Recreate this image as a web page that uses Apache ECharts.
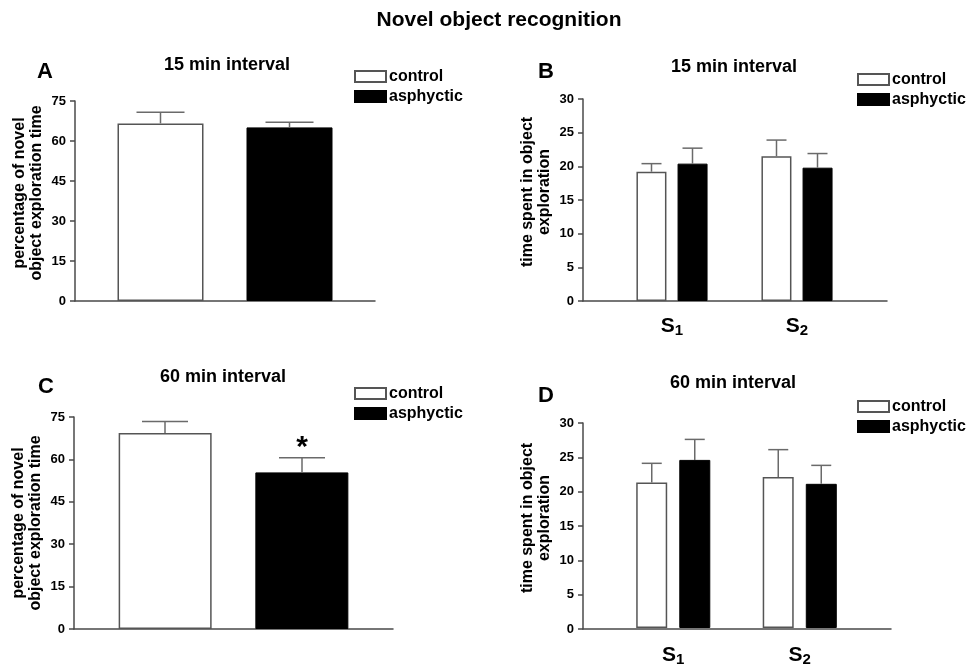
<!DOCTYPE html>
<html>
<head>
<meta charset="utf-8">
<script src="https://cdn.jsdelivr.net/npm/echarts@6/dist/echarts.min.js"></script>
<style>
html,body{margin:0;padding:0;background:#fff;}
#c{width:968px;height:667px;}
</style>
</head>
<body>
<div id="c"></div>
<script>
// ---- data ----
const seriesNames = ['control', 'asphyctic'];
const panelTitles = ['15 min interval', '15 min interval', '60 min interval', '60 min interval'];
const panelLetters = ['A', 'B', 'C', 'D'];
const sessionCats = ['S1', 'S2'];
const pctTicks = [0, 15, 30, 45, 60, 75];
const timeTicks = [0, 5, 10, 15, 20, 25, 30];

// A: 15 min, percentage of novel object exploration time
const ctrlA = [66.6];
const ctrlAErr = [4.2];
const asphA = [65.1];
const asphAErr = [1.9];
// B: 15 min, time spent in object exploration (S1, S2)
const ctrlB = [19.2, 21.5];
const ctrlBErr = [1.2, 2.4];
const asphB = [20.4, 19.8];
const asphBErr = [2.3, 2.1];
// C: 60 min, percentage
const ctrlC = [69.3];
const ctrlCErr = [4.1];
const asphC = [55.4];
const asphCErr = [5.2];
const sigC = ['*'];
// D: 60 min, time spent (S1, S2)
const ctrlD = [21.3, 22.1];
const ctrlDErr = [2.8, 4.0];
const asphD = [24.6, 21.1];
const asphDErr = [3.0, 2.7];

// ---- styles ----
const FONT = '"Liberation Sans", Arial, Helvetica, sans-serif';
const AXIS_COLOR = '#4a4a4a';
const ERR_COLOR = '#6a6a6a';

const chart = echarts.init(document.getElementById('c'), null, {renderer: 'canvas'});

function valueAxis(gridIndex, ticks, name, show, shiftUp) {
  const max = ticks[ticks.length - 1];
  const interval = ticks[1] - ticks[0];
  const sh = shiftUp || 0;
  return {
    type: 'value', gridIndex: gridIndex, min: ticks[0], max: max, interval: interval,
    show: show,
    name: show ? name : '',
    nameLocation: 'middle', nameRotate: 90, nameGap: 30,
    nameTextStyle: {fontFamily: FONT, fontWeight: 'bold', fontSize: 16, color: '#000', lineHeight: 17,
                    padding: [0, 0, 0, sh * 2]},
    axisLine: {show: true, lineStyle: {color: AXIS_COLOR, width: 1.5}},
    axisTick: {show: true, length: 5, lineStyle: {color: AXIS_COLOR, width: 1.5}},
    axisLabel: {fontFamily: FONT, fontWeight: 'bold', fontSize: 13, color: '#000', margin: 9},
    splitLine: {show: false}
  };
}
function plainCatAxis(gridIndex, data) {
  return {
    type: 'category', gridIndex: gridIndex, data: data,
    axisLine: {show: true, lineStyle: {color: AXIS_COLOR, width: 1.5}},
    axisTick: {show: false}, axisLabel: {show: false}, splitLine: {show: false}
  };
}
function sessionAxis(gridIndex, margin) {
  return {
    type: 'category', gridIndex: gridIndex, data: sessionCats,
    axisLine: {show: false}, axisTick: {show: false}, splitLine: {show: false},
    axisLabel: {
      margin: margin,
      formatter: function (v) { return '{s|' + v.charAt(0) + '}{n|' + v.slice(1) + '}'; },
      rich: {
        s: {fontFamily: FONT, fontWeight: 'bold', fontSize: 21, color: '#000'},
        n: {fontFamily: FONT, fontWeight: 'bold', fontSize: 15, color: '#000', padding: [9, 0, 0, 0]}
      }
    }
  };
}

const ctrlStyle = {color: '#ffffff', borderColor: '#555555', borderWidth: 1.5};
const asphStyle = {color: '#000000', borderColor: '#000000', borderWidth: 1};

function barSeries(name, axisIdx, data, style, barWidth, barGap) {
  return {
    type: 'bar', name: name, xAxisIndex: axisIdx, yAxisIndex: axisIdx,
    data: data, itemStyle: style, barWidth: barWidth, barGap: barGap,
    emphasis: {disabled: true}, z: 2
  };
}
function errSeries(name, axisIdx, means, errs, offset, capW, marks) {
  const data = means.map(function (m, i) { return [i, m, errs[i]]; });
  return {
    type: 'custom', name: name, xAxisIndex: axisIdx, yAxisIndex: axisIdx,
    data: data, z: 5, silent: true,
    encode: {x: 0, y: 1},
    renderItem: function (params, api) {
      const base = api.coord([api.value(0), api.value(1)]);
      const top = api.coord([api.value(0), api.value(1) + api.value(2)]);
      const x = base[0] + offset;
      const children = [
        {type: 'line', shape: {x1: x, y1: base[1], x2: x, y2: top[1]},
         style: {stroke: ERR_COLOR, lineWidth: 1.5}},
        {type: 'line', shape: {x1: x - capW / 2, y1: top[1], x2: x + capW / 2, y2: top[1]},
         style: {stroke: ERR_COLOR, lineWidth: 1.5}}
      ];
      if (marks && marks[params.dataIndex]) {
        children.push({type: 'text', x: x, y: top[1] - 10,
          style: {text: marks[params.dataIndex], fill: '#000', fontFamily: FONT,
                  fontWeight: 'bold', fontSize: 30, align: 'center', verticalAlign: 'middle'}});
      }
      return {type: 'group', children: children};
    }
  };
}

function legendAt(left, top) {
  return {
    data: seriesNames, orient: 'vertical', left: left, top: top,
    itemWidth: 31, itemHeight: 11, itemGap: 3, icon: 'rect',
    selectedMode: false, padding: 0,
    textStyle: {fontFamily: FONT, fontWeight: 'bold', fontSize: 16, color: '#000', lineHeight: 17, padding: [0, 0, 0, -2]}
  };
}

function txt(x, y, text, size) {
  return {type: 'text', x: x, y: y, silent: true,
    style: {text: text, fill: '#000', fontFamily: FONT, fontWeight: 'bold', fontSize: size,
            align: 'center', verticalAlign: 'middle'}};
}

const pctName = 'percentage of novel\nobject exploration time';
const timeName = 'time spent in object\nexploration';

const option = {
  backgroundColor: '#ffffff',
  animation: false,
  grid: [
    {left: 75, top: 101, width: 300, height: 200, containLabel: false},
    {left: 583, top: 99, width: 304, height: 202, containLabel: false},
    {left: 609.5, top: 99, width: 250, height: 202, containLabel: false},
    {left: 74, top: 417, width: 319, height: 212, containLabel: false},
    {left: 583, top: 423, width: 308, height: 206, containLabel: false},
    {left: 610, top: 423, width: 253, height: 206, containLabel: false}
  ],
  xAxis: [
    plainCatAxis(0, [panelTitles[0]]),
    plainCatAxis(1, ['']),
    sessionAxis(2, 13),
    plainCatAxis(3, [panelTitles[2]]),
    plainCatAxis(4, ['']),
    sessionAxis(5, 15)
  ],
  yAxis: [
    valueAxis(0, pctTicks, pctName, true, 8),
    valueAxis(1, timeTicks, timeName, true, 8),
    valueAxis(2, timeTicks, '', false),
    valueAxis(3, pctTicks, pctName, true, 0),
    valueAxis(4, timeTicks, timeName, true, 8),
    valueAxis(5, timeTicks, '', false)
  ],
  legend: [legendAt(354, 68), legendAt(857, 71), legendAt(354, 385), legendAt(857, 398)],
  series: [
    barSeries('control', 0, ctrlA, ctrlStyle, 86, '50%'),
    barSeries('asphyctic', 0, asphA, asphStyle, 86, '50%'),
    errSeries('errA1', 0, ctrlA, ctrlAErr, -64.5, 48),
    errSeries('errA2', 0, asphA, asphAErr, 64.5, 48),

    barSeries('control', 2, ctrlB, ctrlStyle, 30, '37%'),
    barSeries('asphyctic', 2, asphB, asphStyle, 30, '37%'),
    errSeries('errB1', 2, ctrlB, ctrlBErr, -20.5, 20),
    errSeries('errB2', 2, asphB, asphBErr, 20.5, 20),

    barSeries('control', 3, ctrlC, ctrlStyle, 93, '47%'),
    barSeries('asphyctic', 3, asphC, asphStyle, 93, '47%'),
    errSeries('errC1', 3, ctrlC, ctrlCErr, -68.5, 46),
    errSeries('errC2', 3, asphC, asphCErr, 68.5, 46, sigC),

    barSeries('control', 5, ctrlD, ctrlStyle, 31, '39%'),
    barSeries('asphyctic', 5, asphD, asphStyle, 31, '39%'),
    errSeries('errD1', 5, ctrlD, ctrlDErr, -21.5, 20),
    errSeries('errD2', 5, asphD, asphDErr, 21.5, 20)
  ],
  graphic: [
    txt(499, 20, 'Novel object recognition', 21),
    txt(227, 65, panelTitles[0], 18),
    txt(734, 67, panelTitles[1], 18),
    txt(223, 377, panelTitles[2], 18),
    txt(733, 383, panelTitles[3], 18),
    txt(45, 72, panelLetters[0], 22),
    txt(546, 72, panelLetters[1], 22),
    txt(46, 387, panelLetters[2], 22),
    txt(546, 396, panelLetters[3], 22)
  ]
};
chart.setOption(option);
</script>
</body>
</html>
